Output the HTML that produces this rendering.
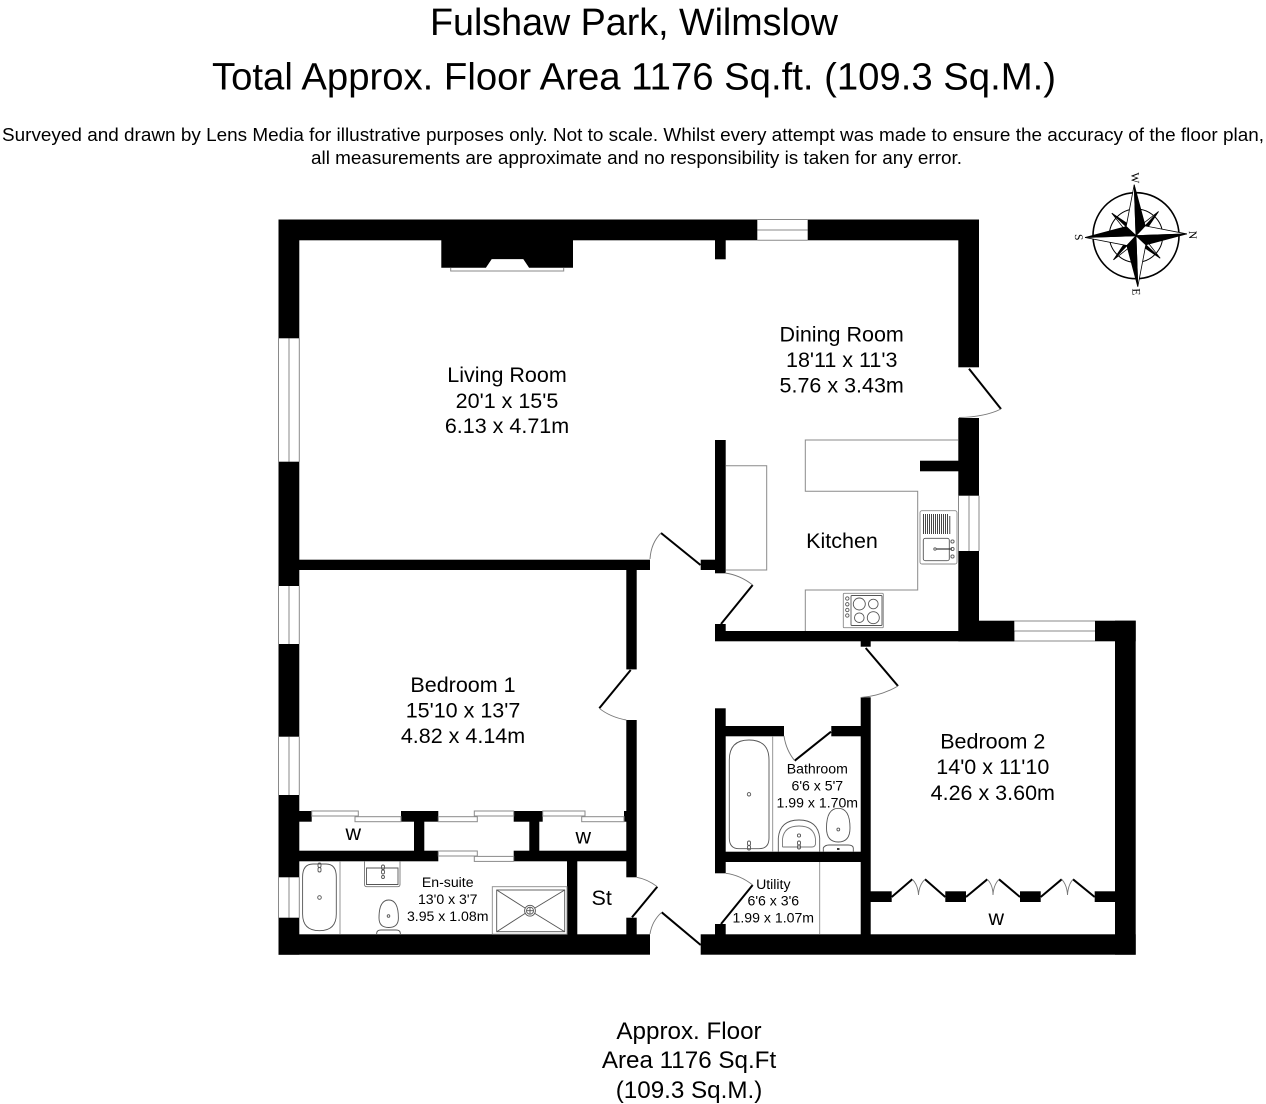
<!DOCTYPE html>
<html>
<head>
<meta charset="utf-8">
<style>
html,body{margin:0;padding:0;background:#fff}
svg{display:block}
text{font-family:"Liberation Sans",sans-serif;fill:#000;text-anchor:middle}
.r{font-size:21.5px}
.s{font-size:14.1px}
.g{fill:none;stroke:#8a8a8a;stroke-width:1}
.d{fill:none;stroke:#000;stroke-width:2}
.a{fill:none;stroke:#777;stroke-width:.9}
</style>
</head>
<body>
<svg width="1266" height="1104" viewBox="0 0 1266 1104" xmlns="http://www.w3.org/2000/svg">
<rect width="1266" height="1104" fill="#fff"/>

<!-- headings -->
<text x="634" y="35" font-size="37.7" textLength="408">Fulshaw Park, Wilmslow</text>
<text x="634" y="89.5" font-size="38.3" textLength="844">Total Approx. Floor Area 1176 Sq.ft. (109.3 Sq.M.)</text>
<text x="633" y="141" font-size="18.9" textLength="1262">Surveyed and drawn by Lens Media for illustrative purposes only. Not to scale. Whilst every attempt was made to ensure the accuracy of the floor plan,</text>
<text x="636.5" y="164" font-size="18.9" textLength="651">all measurements are approximate and no responsibility is taken for any error.</text>

<!-- window lines -->
<g class="g">
  <path d="M757.3 219.5H807.7M757.3 230H807.7M757.3 240.3H807.7"/>
  <path d="M278.5 338.3V461.7M289 338.3V461.7M299.3 338.3V461.7"/>
  <path d="M278.5 586V644M289 586V644M299.3 586V644"/>
  <path d="M278.5 736.7V795M289 736.7V795M299.3 736.7V795"/>
  <path d="M278.5 877.3V917.7M289 877.3V917.7M299.3 877.3V917.7"/>
  <path d="M958.5 495.7V551M969 495.7V551M979 495.7V551"/>
  <path d="M1014.3 621H1095M1014.3 631H1095M1014.3 641H1095"/>
</g>

<!-- walls -->
<g fill="#000">
  <rect x="278.5" y="219.5" width="478.8" height="20.8"/>
  <rect x="807.7" y="219.5" width="171.3" height="20.8"/>
  <rect x="278.5" y="219.5" width="20.8" height="118.8"/>
  <rect x="278.5" y="461.7" width="20.8" height="124.3"/>
  <rect x="278.5" y="644" width="20.8" height="92.7"/>
  <rect x="278.5" y="795" width="20.8" height="82.3"/>
  <rect x="278.5" y="917.7" width="20.8" height="37"/>
  <rect x="958.3" y="219.5" width="20.7" height="147.8"/>
  <rect x="958.3" y="418" width="20.7" height="77.7"/>
  <rect x="958.3" y="551" width="20.7" height="90.3"/>
  <rect x="715" y="631" width="299.3" height="10.3"/>
  <rect x="979" y="620.7" width="35.3" height="20.6"/>
  <rect x="1095" y="620.7" width="40.7" height="20.6"/>
  <rect x="1115" y="620.7" width="20.7" height="334"/>
  <rect x="278.5" y="934.3" width="371.5" height="20.4"/>
  <rect x="700.7" y="934.3" width="435" height="20.4"/>
  <!-- fireplace and nib -->
  <path d="M441.3 240H573V267.7H529L523.3 259.3H491.7L486 267.7H441.3Z"/>
  <rect x="715" y="240" width="10.7" height="19.3"/>
  <!-- living / bed 1 -->
  <rect x="299" y="559.7" width="351" height="10.3"/>
  <rect x="626.3" y="570" width="10.4" height="99.4"/>
  <rect x="626.3" y="720" width="10.4" height="157.3"/>
  <rect x="626.3" y="917.7" width="10.4" height="17"/>
  <rect x="700.7" y="559.7" width="15" height="10.3"/>
  <!-- kitchen -->
  <rect x="715" y="440" width="10.7" height="133.3"/>
  <rect x="715" y="624" width="10.7" height="10"/>
  <rect x="920" y="460.7" width="38.5" height="10.6"/>
  <!-- closets -->
  <rect x="299" y="811" width="12.7" height="10.7"/>
  <rect x="401" y="811" width="37.3" height="10.7"/>
  <rect x="513.7" y="811" width="29" height="10.7"/>
  <rect x="624" y="811" width="3" height="10.7"/>
  <rect x="414" y="821" width="10.3" height="31"/>
  <rect x="529.3" y="821" width="10" height="31"/>
  <rect x="299" y="850.7" width="139.3" height="10.6"/>
  <rect x="513.7" y="850.7" width="113" height="10.6"/>
  <rect x="567" y="861" width="10.3" height="74"/>
  <!-- bedroom 2 / bathroom / utility -->
  <rect x="860.7" y="641" width="10" height="5.7"/>
  <rect x="860.7" y="697.3" width="10" height="237.7"/>
  <rect x="715" y="708.3" width="10.7" height="165"/>
  <rect x="725" y="726" width="59" height="10.3"/>
  <rect x="831.3" y="726" width="30" height="10.3"/>
  <rect x="715" y="851.7" width="146" height="10.3"/>
  <rect x="715" y="924" width="10.7" height="11"/>
  <rect x="870" y="891.3" width="21.7" height="10.7"/>
  <rect x="945.3" y="891.3" width="20.7" height="10.7"/>
  <rect x="1020" y="891.3" width="20.7" height="10.7"/>
  <rect x="1094.7" y="891.3" width="21" height="10.7"/>
</g>

<!-- hearth -->
<path class="g" d="M450.7 268V271H563.7V268"/>
<path d="M486 267.7L491.7 259.3H523.3L529 267.7Z" fill="#fff"/>

<!-- door leaves -->
<g class="d">
  <path d="M661 533L700.5 565"/>
  <path d="M969 368.7L1001 409"/>
  <path d="M721 624L752.7 585"/>
  <path d="M630.7 670L599.3 708.3"/>
  <path d="M865.7 648L898 686"/>
  <path d="M794.7 760.7L831 731.7"/>
  <path d="M721 924L752.7 885"/>
  <path d="M657.3 886.7L632 917.3"/>
  <path d="M661.7 912.3L700.7 945"/>
  <path d="M891.7 897L912.3 879.3M925 879.3L945.3 897"/>
  <path d="M966 897L987.3 879.3M999 879.3L1020 897"/>
  <path d="M1040.7 897L1061.7 879.3M1073 879.3L1094.7 897"/>
</g>

<!-- door swings -->
<g class="a">
  <path d="M650 559Q651 543 661 533"/>
  <path d="M1001 409Q985 417 959 417.5"/>
  <path d="M752.7 585Q740 575 725 573"/>
  <path d="M599.3 708.3Q610 717 626.3 720"/>
  <path d="M898 686Q881 696 861 697.5"/>
  <path d="M784 736Q786 750 794.7 760.7"/>
  <path d="M752.7 885Q740 875 725.7 873.3"/>
  <path d="M636.7 877.3Q647 879 657.3 886.7"/>
  <path d="M650 934Q652 921 661.7 912.3"/>
  <path d="M912.3 879.3Q918 885 918.5 895Q919 885 925 879.3"/>
  <path d="M987.3 879.3Q993 885 993 895Q993.5 885 999 879.3"/>
  <path d="M1061.7 879.3Q1067 885 1067.5 895Q1068 885 1073 879.3"/>
</g>

<!-- sliding doors -->
<g fill="#fff" stroke="#8a8a8a" stroke-width="1">
  <rect x="311.7" y="811" width="46.6" height="5"/>
  <rect x="355" y="816.7" width="46" height="5"/>
  <rect x="438.3" y="816.7" width="39" height="5"/>
  <rect x="474.3" y="811" width="39.4" height="5"/>
  <rect x="542.7" y="811" width="42.3" height="5"/>
  <rect x="581.7" y="816.7" width="42.3" height="5"/>
  <rect x="438.3" y="851" width="39" height="5"/>
  <rect x="474.3" y="856.4" width="39.4" height="5"/>
</g>

<!-- kitchen units -->
<g class="g">
  <path d="M725.7 465.7H766.7V570H725.7"/>
  <path d="M958 440H805.3V491.3H917.7V590H805.3V631"/>
</g>
<!-- hob -->
<g fill="none" stroke="#555" stroke-width=".9">
  <rect x="843.3" y="593.3" width="40" height="34.4" rx="1" stroke="#8a8a8a"/>
  <rect x="851" y="595.5" width="31" height="30" rx="1"/>
  <circle cx="859.3" cy="604" r="6"/>
  <circle cx="873.3" cy="604" r="4.8"/>
  <circle cx="859.3" cy="617.7" r="4.8"/>
  <circle cx="873.3" cy="617.7" r="6"/>
  <circle cx="847.3" cy="598.5" r="1.7"/>
  <circle cx="847.3" cy="604.3" r="1.7"/>
  <circle cx="847.3" cy="610" r="1.7"/>
  <circle cx="847.3" cy="615.5" r="1.7"/>
</g>
<!-- kitchen sink -->
<g fill="none" stroke="#555" stroke-width=".9">
  <rect x="920" y="510.7" width="37" height="53.3" rx="2" stroke="#8a8a8a"/>
  <path d="M923.5 514V534M925.5 514V534M927.5 514V534M929.5 514V534M931.5 514V534M933.5 514V534M935.5 514V534M937.5 514V534M939.5 514V534M941.5 514V534M943.5 514V534M945.5 514V534M947.5 514V534M949.8 516V534" stroke="#333"/>
  <rect x="923.3" y="538.3" width="26" height="22.4" rx="2"/>
  <path d="M936 549H952" stroke="#333" stroke-width="1.2"/>
  <circle cx="935" cy="549" r="1.2"/>
  <circle cx="952.5" cy="541.5" r="1.6"/>
  <circle cx="952.5" cy="549" r="1.6"/>
  <circle cx="952.5" cy="556.5" r="1.6"/>
</g>

<!-- bathroom fittings -->
<g fill="none" stroke="#555" stroke-width=".9">
  <path d="M772.7 736V852" stroke="#8a8a8a"/>
  <path d="M729.3 760Q729.3 740 749 740Q769 740 769 760V838Q769 848.7 759 848.7H739Q729.3 848.7 729.3 838Z"/>
  <circle cx="749" cy="794.3" r="1.7"/>
  <rect x="747.5" y="841" width="3" height="4.5" rx="1.5"/>
  <rect x="747.5" y="845.5" width="3" height="4.5" rx="1.5"/>
  <path d="M778.3 852V838Q780 820 799 820Q818 820 819.7 838V852"/>
  <path d="M782.5 847V839Q784 826 799 826Q814 826 815.5 839V844Q815 847 812 847H782.5" stroke="#777"/>
  <circle cx="799" cy="835.5" r="1.6"/>
  <rect x="797.5" y="841" width="3" height="4" rx="1.5"/>
  <rect x="797.5" y="845" width="3" height="4" rx="1.5"/>
  <path d="M826.5 828Q826.5 808.3 838.3 808.3Q850 808.3 850 828Q850 842 838.3 842Q826.5 842 826.5 828Z"/>
  <circle cx="838.3" cy="829.5" r="1.4"/>
  <path d="M823.3 851.7V848Q825 845 829 845H848Q853 845 853.3 848V851.7"/>
  <path d="M819.7 862V934" stroke="#8a8a8a"/>
</g>
<rect x="837" y="848" width="2.5" height="2" fill="#333"/>

<!-- ensuite fittings -->
<g fill="none" stroke="#555" stroke-width=".9">
  <path d="M340 861V934" stroke="#8a8a8a"/>
  <path d="M302.6 877Q302.6 864 313 864H326Q336.3 864 336.3 877V914Q336.3 930.7 319.5 930.7Q302.6 930.7 302.6 914Z"/>
  <circle cx="319.5" cy="897.5" r="1.8"/>
  <rect x="318" y="863" width="3" height="4.5" rx="1.5"/>
  <rect x="318" y="867.5" width="3" height="4.5" rx="1.5"/>
  <path d="M364.5 861V884.5Q364.5 886.7 367 886.7H397.5Q400 886.7 400 884.5V861" stroke="#777"/>
  <path d="M366.5 868H398V884.5H366.5Z"/>
  <rect x="381.5" y="865" width="3" height="4.5" rx="1.5"/>
  <rect x="381.5" y="870" width="3" height="4" rx="1.5"/>
  <circle cx="383" cy="877" r="1.5"/>
  <path d="M379 918Q379 900 388.7 900Q398.4 900 398.4 918Q398.4 927.5 388.7 927.5Q379 927.5 379 918Z"/>
  <circle cx="388.5" cy="916" r="1.3"/>
  <path d="M376.7 934V933Q377 930 381 930H396Q400 930 400.3 933V934"/>
  <rect x="492.3" y="886.7" width="74.7" height="47.5" stroke="#8a8a8a"/>
  <rect x="496.7" y="890" width="68" height="41.7"/>
  <path d="M496.7 890L525 908M564.7 890L535 908M496.7 931.7L525 913.5M564.7 931.7L535 913.5"/>
  <circle cx="530" cy="910.7" r="5.4"/>
  <circle cx="530" cy="910.7" r="3.5"/>
  <path d="M526.5 910.7H533.5M530 907.2V914.2"/>
</g>

<!-- compass -->
<g transform="translate(1136 235.7) rotate(-2)">
  <circle r="43" fill="#fff" stroke="#000" stroke-width="1.6"/>
  <circle r="26.7" fill="none" stroke="#000" stroke-width="1"/>
  <g stroke="#000" stroke-width=".8">
    <g transform="rotate(45)"><path d="M0 -33L-3.5 -11L0 -8Z" fill="#fff"/><path d="M0 -33L3.5 -11L0 -8Z" fill="#000"/></g>
    <g transform="rotate(135)"><path d="M0 -33L-3.5 -11L0 -8Z" fill="#fff"/><path d="M0 -33L3.5 -11L0 -8Z" fill="#000"/></g>
    <g transform="rotate(225)"><path d="M0 -33L-3.5 -11L0 -8Z" fill="#fff"/><path d="M0 -33L3.5 -11L0 -8Z" fill="#000"/></g>
    <g transform="rotate(315)"><path d="M0 -33L-3.5 -11L0 -8Z" fill="#fff"/><path d="M0 -33L3.5 -11L0 -8Z" fill="#000"/></g>
    <g><path d="M0 -51L-9.5 -9.5L0 0Z" fill="#fff"/><path d="M0 -51L9.5 -9.5L0 0Z" fill="#000"/></g>
    <g transform="rotate(90)"><path d="M0 -51L-9.5 -9.5L0 0Z" fill="#fff"/><path d="M0 -51L9.5 -9.5L0 0Z" fill="#000"/></g>
    <g transform="rotate(180)"><path d="M0 -51L-9.5 -9.5L0 0Z" fill="#fff"/><path d="M0 -51L9.5 -9.5L0 0Z" fill="#000"/></g>
    <g transform="rotate(270)"><path d="M0 -51L-9.5 -9.5L0 0Z" fill="#fff"/><path d="M0 -51L9.5 -9.5L0 0Z" fill="#000"/></g>
  </g>
</g>
<g font-size="11.5">
  <text transform="translate(1131.5 178) rotate(88)" style="font-family:'Liberation Serif',serif">W</text>
  <text transform="translate(1189 235) rotate(88)" style="font-family:'Liberation Serif',serif">N</text>
  <text transform="translate(1132.5 292) rotate(88)" style="font-family:'Liberation Serif',serif">E</text>
  <text transform="translate(1075 237.3) rotate(88)" style="font-family:'Liberation Serif',serif">S</text>
</g>

<!-- room labels -->
<g class="r">
  <text x="507" y="382">Living Room</text>
  <text x="507" y="408">20'1 x 15'5</text>
  <text x="507" y="433">6.13 x 4.71m</text>
  <text x="841.7" y="341.7">Dining Room</text>
  <text x="841.7" y="367">18'11 x 11'3</text>
  <text x="841.7" y="392.7">5.76 x 3.43m</text>
  <text x="842" y="547.8">Kitchen</text>
  <text x="463" y="692">Bedroom 1</text>
  <text x="463" y="717.5">15'10 x 13'7</text>
  <text x="463" y="743">4.82 x 4.14m</text>
  <text x="992.8" y="748.3">Bedroom 2</text>
  <text x="992.8" y="774">14'0 x 11'10</text>
  <text x="992.8" y="800">4.26 x 3.60m</text>
  <text x="353.3" y="840">w</text>
  <text x="583.3" y="843.3">w</text>
  <text x="996.3" y="925">w</text>
  <text x="601.7" y="905">St</text>
</g>
<g class="s">
  <text x="817.3" y="773.3">Bathroom</text>
  <text x="817.3" y="790.3">6'6 x 5'7</text>
  <text x="817.3" y="807.3">1.99 x 1.70m</text>
  <text x="773.3" y="889">Utility</text>
  <text x="773.3" y="905.7">6'6 x 3'6</text>
  <text x="773.3" y="922.3">1.99 x 1.07m</text>
  <text x="447.7" y="887">En-suite</text>
  <text x="447.7" y="904">13'0 x 3'7</text>
  <text x="447.7" y="921">3.95 x 1.08m</text>
</g>

<!-- footer -->
<g style="font-size:24.2px">
  <text x="689" y="1039">Approx. Floor</text>
  <text x="689" y="1068">Area 1176 Sq.Ft</text>
  <text x="689" y="1098">(109.3 Sq.M.)</text>
</g>
</svg>
</body>
</html>
